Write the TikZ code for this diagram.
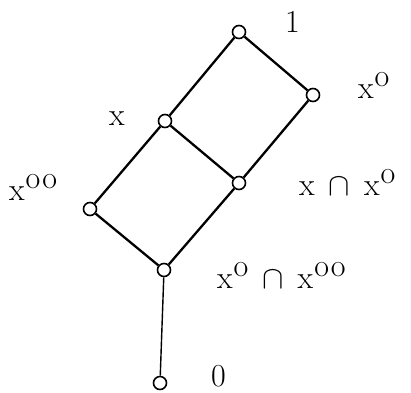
\RequirePackage{fix-cm}
\documentclass[tikz,border=0pt]{standalone}
\usepackage{amsmath}

% esponente "o" alzato, grande quasi quanto la x
\newcommand{\ap}[1]{\kern1pt\raisebox{12pt}{#1}}
\newcommand{\inter}{\hspace{14pt}$\cap$\hspace{14pt}}

\tikzset{
  punto/.style={circle, draw, fill=white, line width=1.6pt, minimum size=13pt, inner sep=0pt},
  etichetta/.style={inner sep=0pt, anchor=base west, font=\fontsize{32}{36}\selectfont},
  arco/.style={line width=2.3pt}
}

\begin{document}
\begin{tikzpicture}[x=1pt, y=-1pt]
        \useasboundingbox (0,0) rectangle (411,392);

        % definizione dei nodi (punti del reticolo)
        \node[punto] (uno) at (239, 32) {};
        \node[punto] (xo) at (313, 95) {};
        \node[punto] (x) at (165, 121) {};
        \node[punto] (xcapxo) at (239, 183) {};
        \node[punto] (xoo) at (90, 209) {};
        \node[punto] (xocapxoo) at (164, 270) {};
        \node[punto] (zero) at (160, 383) {};

        % Disegno degli archi
        \draw[arco] (uno) -- (xo) -- (xcapxo) -- (xocapxoo) -- (xoo) -- (x) -- (uno);
        \draw[arco] (x) -- (xcapxo);
        \draw[line width=1.4pt] (xocapxoo) -- (zero);

        % Etichette dei punti
        \node[etichetta] (luno) at (285, 32) {1};
        \node[etichetta] (lxo) at (358, 98) {x\ap{o}};
        \node[etichetta] (lx) at (109, 125) {x};
        \node[etichetta] (lxoo) at (9, 200) {x\ap{o\kern2pt o}};
        \node[etichetta] (lxcapxo) at (299, 195) {x\inter x\ap{o}};
        \node[etichetta] (lxocapxoo) at (217, 288) {x\ap{o}\inter x\ap{o\kern2pt o}};
        \node[etichetta] (lzero) at (211, 386) {0};
    \end{tikzpicture}
\end{document}
